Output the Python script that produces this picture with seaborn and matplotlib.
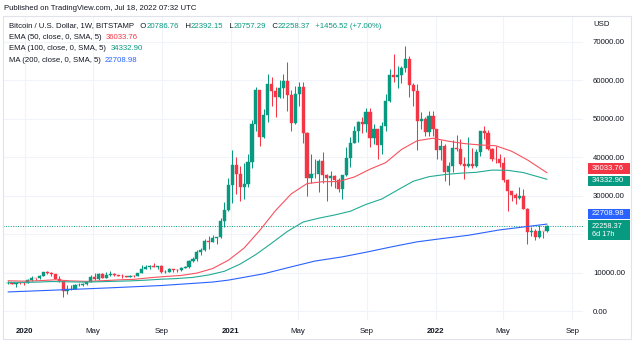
import numpy as np
import pandas as pd
import matplotlib
matplotlib.use("Agg")
import matplotlib.pyplot as plt
from matplotlib.patches import Rectangle
import seaborn as sns

# ---- weekly BTC/USD candles (Bitstamp), one row per week starting Monday ----
first_week = "2019-12-02"
opens = [7400, 7520, 7060, 7510, 7390, 7350, 8180, 8700, 8600, 9340,
         10150, 9920, 9690, 8540, 8040, 5370, 5830, 5880, 6770, 6900,
         7120, 7700, 8890, 8570, 9680, 8720, 9450, 9740, 9390, 9290,
         9120, 9070, 9250, 9180, 9930, 11060, 11680, 11850, 11650, 11690,
         10250, 10320, 10930, 10780, 10680, 11390, 11500, 13030, 13760, 15480,
         15960, 18400, 18180, 19150, 19270, 23470, 26300, 32950, 38150, 35800,
         32290, 33100, 38900, 48600, 57500, 45200, 51000, 59000, 57300, 55800,
         58000, 59800, 56200, 49000, 56600, 58200, 46400, 34700, 35600, 35800,
         39000, 35500, 34700, 35300, 34250, 31800, 35400, 39900, 43800, 47000,
         49300, 48800, 51800, 45100, 47300, 43200, 48200, 54700, 61500, 60900,
         61300, 63300, 65500, 58700, 57300, 49400, 50100, 46700, 50800, 47300,
         41900, 43100, 36300, 37900, 42400, 42200, 38400, 37700, 38400, 37800,
         41300, 46800, 46400, 42200, 39700, 39500, 38500, 34100, 31300, 30300,
         29400, 29900, 26600, 20600, 21000, 19300, 20850, 20786.76]
highs = [7870, 7650, 7520, 7690, 7540, 8450, 9190, 8800, 9560, 10160,
         10500, 10250, 9710, 9190, 8180, 6900, 6970, 7200, 7470, 7290,
         7720, 9460, 10070, 9950, 9880, 10380, 10400, 9990, 9590, 9780,
         9310, 9470, 9360, 10100, 12100, 12000, 12180, 12480, 11800, 12100,
         10750, 11180, 10990, 10950, 11500, 11720, 13350, 14100, 15950, 16480,
         18800, 19480, 19900, 19400, 24300, 28400, 34800, 41950, 40100, 37800,
         38600, 40900, 49700, 58300, 57600, 52600, 61800, 61000, 58400, 60000,
         61800, 64900, 57500, 58500, 59600, 59500, 46600, 40900, 39500, 39600,
         41300, 35700, 36600, 35400, 34700, 35500, 42600, 45300, 48100, 49500,
         50500, 52900, 52900, 48800, 47400, 49200, 56500, 62900, 67000, 63700,
         63700, 69000, 66300, 59300, 59000, 51900, 50600, 52000, 52100, 47500,
         44500, 43500, 38900, 44500, 45800, 44700, 40000, 45400, 42500, 42300,
         46900, 48200, 47200, 42400, 42900, 40800, 40000, 34300, 31400, 30700,
         32400, 31700, 26800, 21900, 21500, 22500, 21000, 22392.15]
lows = [7080, 7030, 6430, 7120, 6870, 7330, 8040, 8250, 8570, 9140,
        9740, 9300, 8410, 7630, 3850, 4440, 5690, 5860, 6600, 6560,
        6780, 7680, 8130, 8200, 8630, 8640, 9270, 9230, 9170, 8830,
        8930, 9050, 9000, 9150, 9900, 11000, 11150, 11520, 11150, 9870,
        9880, 10240, 10140, 10370, 10530, 11220, 11400, 12900, 13200, 14800,
        15800, 16200, 18150, 17600, 19000, 21900, 26100, 28200, 30400, 28800,
        29200, 32300, 37400, 47000, 43000, 45000, 49300, 53300, 50400, 55500,
        55500, 52000, 47000, 48800, 53400, 43800, 30000, 33400, 34800, 31000,
        33400, 28800, 32700, 32100, 31100, 29300, 35200, 37500, 43700, 43900,
        46400, 46500, 42800, 43400, 39600, 40800, 46900, 54400, 59600, 58000,
        59400, 62300, 55600, 53500, 42000, 47300, 45700, 45600, 45700, 39700,
        39300, 34000, 32900, 36300, 41700, 38000, 34300, 37500, 37200, 37600,
        40500, 44800, 41900, 39200, 38600, 37600, 33700, 26000, 28700, 28000,
        29300, 26500, 17600, 19600, 18600, 19000, 19000, 20757.29]
closes = [7520, 7060, 7510, 7390, 7350, 8180, 8700, 8600, 9340, 10150,
          9920, 9690, 8540, 8040, 5370, 5830, 5880, 6770, 6900, 7120,
          7700, 8890, 8570, 9680, 8720, 9450, 9740, 9390, 9290, 9120,
          9070, 9250, 9180, 9930, 11060, 11680, 11850, 11650, 11690, 10250,
          10320, 10930, 10780, 10680, 11390, 11500, 13030, 13760, 15480, 15960,
          18400, 18180, 19150, 19270, 23470, 26300, 32950, 38150, 35800, 32290,
          33100, 38900, 48600, 57500, 45200, 51000, 59000, 57300, 55800, 58000,
          59800, 56200, 49000, 56600, 58200, 46400, 34700, 35600, 35800, 39000,
          35500, 34700, 35300, 34250, 31800, 35400, 39900, 43800, 47000, 49300,
          48800, 51800, 45100, 47300, 43200, 48200, 54700, 61500, 60900, 61300,
          63300, 65500, 58700, 57300, 49400, 50100, 46700, 50800, 47300, 41900,
          43100, 36300, 37900, 42400, 42200, 38400, 37700, 38400, 37800, 41300,
          46800, 46400, 42200, 39700, 39500, 38500, 34100, 31300, 30300, 29400,
          29900, 26600, 20600, 21000, 19300, 20850, 20801.85, 22258.37]

# ---- moving averages, sampled by week number ----
ema50_weeks = [0, 4, 8, 12, 16, 20, 24, 28, 32, 36, 40, 44, 48, 52, 56, 60, 64,
               68, 72, 76, 80, 84, 88, 92, 96, 100, 104, 108, 112, 116, 120,
               124, 128, 132, 137]
ema50_vals = [7981, 7885, 8008, 8236, 7943, 7824, 7994, 8212, 8352, 8768, 9090,
              9365, 9977, 11159, 13311, 16479, 21093, 26228, 30568, 33231,
              33713, 33750, 34928, 36964, 38668, 42084, 44359, 45001, 44218,
              43608, 43255, 43045, 41621, 39382, 36033.76]
ema100_weeks = [0, 3, 7, 11, 15, 19, 23, 27, 31, 35, 39, 43, 47, 51, 55, 59, 63,
                67, 71, 75, 79, 83, 87, 91, 95, 99, 103, 107, 111, 115, 119,
                123, 127, 131, 137]
ema100_vals = [7580, 7564, 7614, 7780, 7716, 7635, 7718, 7842, 7945, 8139, 8387,
               8563, 8860, 9486, 10452, 12324, 14800, 17747, 20800, 23242,
               24244, 25066, 26040, 27823, 29217, 31553, 33833, 35019, 35567,
               35925, 36146, 36733, 36665, 36079, 34332.90]
ma200_weeks = [0, 13, 26, 39, 52, 56, 65, 72, 78, 85, 91, 98, 104, 110, 117,
               125, 131, 137]
ma200_vals = [5080, 5600, 6150, 6750, 7650, 8150, 9800, 11600, 13100, 14200,
              15400, 16900, 18100, 18900, 19800, 21200, 21950, 22708.98]

price_ticks = [0, 10000, 20000, 30000, 40000, 50000, 60000, 70000]
# the 20000 label sits under the live-price tag, so it is left blank
price_labels = ["0.00", "10000.00", "", "30000.00", "40000.00", "50000.00",
                "60000.00", "70000.00"]
time_ticks = ["2020-01-01", "2020-05-01", "2020-09-01", "2021-01-01",
              "2021-05-01", "2021-09-01", "2022-01-01", "2022-05-01",
              "2022-09-01"]
time_labels = ["2020", "May", "Sep", "2021", "May", "Sep", "2022", "May", "Sep"]

UP = "#089981"
DOWN = "#f23645"
EMA50_C = "#f7525f"
EMA100_C = "#22ab94"
MA200_C = "#2962ff"
TXT = "#131722"

sns.set_theme(style="white")
plt.rcParams["font.family"] = ["Liberation Sans", "DejaVu Sans"]
FS = 5.6

W, H = 639, 344
fig = plt.figure(figsize=(W / 100, H / 100), dpi=100)
fig.patch.set_facecolor("white")
ax = fig.add_axes([3 / W, 1 - 320 / H, 580 / W, 304 / H])
ax.set_facecolor("white")

df = pd.DataFrame({
    "week": pd.date_range(first_week, periods=len(closes), freq="7D"),
    "open": opens, "high": highs, "low": lows, "close": closes,
})
col = np.where(df["close"] >= df["open"], UP, DOWN)

# grid
ax.set_xlim(pd.Timestamp("2019-11-23"), pd.Timestamp("2022-09-20"))
ax.set_ylim(-2208, 76750)
ax.set_yticks(price_ticks)
ax.set_xticks(pd.to_datetime(time_ticks))
ax.grid(True, color="#f0f3fa", linewidth=0.8)
ax.set_axisbelow(True)

# candles
ax.vlines(df["week"], df["low"], df["high"], colors=col, linewidth=0.75, zorder=3)
ax.bar(df["week"], df["close"] - df["open"], bottom=df["open"], width=5.6,
       color=col, edgecolor=col, linewidth=0.3, zorder=4)


def week_dates(idx):
    return pd.to_datetime(first_week) + pd.to_timedelta(np.array(idx) * 7, unit="D")


sns.lineplot(x=week_dates(ema50_weeks), y=ema50_vals, ax=ax, color=EMA50_C,
             linewidth=0.8, zorder=5)
sns.lineplot(x=week_dates(ema100_weeks), y=ema100_vals, ax=ax, color=EMA100_C,
             linewidth=0.8, zorder=5)
sns.lineplot(x=week_dates(ma200_weeks), y=ma200_vals, ax=ax, color=MA200_C,
             linewidth=0.8, zorder=5)

last_close = closes[-1]
ax.axhline(last_close, color=UP, linestyle=(0, (1, 1.5)), linewidth=0.7, zorder=2)

# axes styling
for s in ax.spines.values():
    s.set_visible(False)
ax.yaxis.tick_right()
ax.set_yticklabels(price_labels)
ax.tick_params(axis="y", length=0, pad=7.2, labelsize=FS, labelcolor=TXT)
ax.set_xticklabels(time_labels)
ax.tick_params(axis="x", length=0, pad=6, labelsize=5.7, labelcolor=TXT)
for lab in ax.get_xticklabels():
    if lab.get_text().isdigit():
        lab.set_fontweight("bold")
ax.set_xlabel("")
ax.set_ylabel("")

# outer pane frame
fig.patches.append(Rectangle((3 / W, 1 - 339 / H), 628 / W, 323 / H,
                             transform=fig.transFigure, fill=False,
                             edgecolor="#e0e3eb", linewidth=0.8))

# header and legend
fig.text(4 / W, 1 - 8 / H, "Published on TradingView.com, Jul 18, 2022 07:32 UTC",
         fontsize=FS, color=TXT, va="center", ha="left")

renderer = fig.canvas.get_renderer()


def chained(parts, x, y):
    """Write coloured pieces one after another on a shared baseline (pixels)."""
    px = x
    for s, c in parts:
        t = fig.text(px / W, 1 - y / H, s, color=c, fontsize=FS,
                     va="baseline", ha="left")
        px = t.get_window_extent(renderer).x1


prev_close = closes[-2]
chg = closes[-1] - prev_close
chained([("Bitcoin / U.S. Dollar, 1W, BITSTAMP   O", TXT), (f"{opens[-1]:.2f}", UP),
         ("   H", TXT), (f"{highs[-1]:.2f}", UP), ("   L", TXT), (f"{lows[-1]:.2f}", UP),
         ("   C", TXT), (f"{closes[-1]:.2f}", UP),
         (f"  {chg:+.2f} ({chg / prev_close * 100:+.2f}%)", UP)],
        9, 27.5)
chained([("EMA (50, close, 0, SMA, 5)  ", TXT), (f"{ema50_vals[-1]:.2f}", DOWN)], 9, 39)
chained([("EMA (100, close, 0, SMA, 5)  ", TXT), (f"{ema100_vals[-1]:.2f}", UP)], 9, 50.5)
chained([("MA (200, close, 0, SMA, 5)  ", TXT), (f"{ma200_vals[-1]:.2f}", MA200_C)], 9, 62)

fig.text(593 / W, 1 - 25 / H, "USD", fontsize=FS, color=TXT, va="center", ha="left")


# price scale value tags
def ypix(v):
    return H - ax.transData.transform((0, v))[1]


def tag(value, color, top_off, bottom_off, text, fs=FS, ls=1.2):
    yc = ypix(value)
    top, bot = yc + top_off, yc + bottom_off
    fig.patches.append(Rectangle((588 / W, 1 - bot / H), 42 / W, (bot - top) / H,
                                 transform=fig.transFigure, facecolor=color,
                                 edgecolor="none"))
    fig.text(592 / W, 1 - (top + bot) / 2 / H, text, fontsize=fs, color="white",
             va="center", ha="left", linespacing=ls)


tag(ema50_vals[-1], DOWN, -9.8, 1.2, f"{ema50_vals[-1]:.2f}")
tag(ema100_vals[-1], UP, -3.6, 6.6, f"{ema100_vals[-1]:.2f}")
tag(ma200_vals[-1], MA200_C, -15.0, -5.2, f"{ma200_vals[-1]:.2f}")
tag(last_close, UP, -5.6, 14.6, f"{last_close:.2f}\n6d 17h", fs=5.3, ls=1.3)

fig.savefig("out.png", dpi=100, facecolor="white")
